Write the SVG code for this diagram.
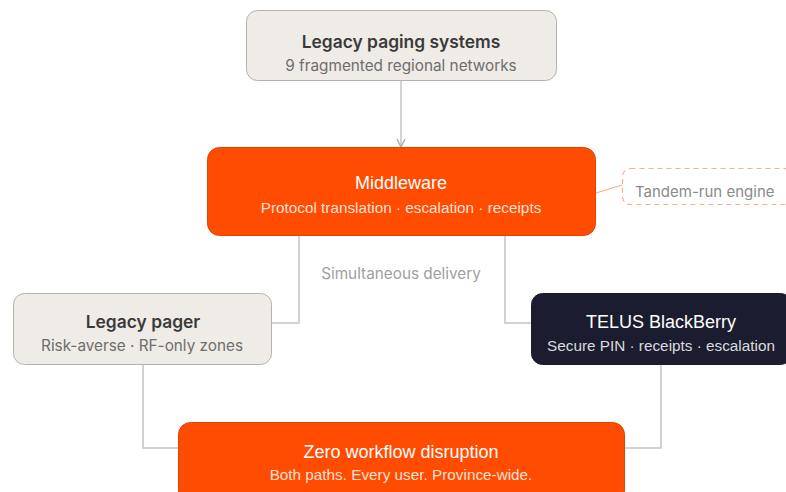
<svg xmlns="http://www.w3.org/2000/svg" width="786" height="492" viewBox="0 0 786 492">
<style>
.light{fill:#efebe6;stroke:#b5b2ae;stroke-width:1}
.orange{fill:#ff4c00;stroke:#e04400;stroke-width:1}
.dark{fill:#1c1c30;stroke:#1c1c30;stroke-width:1}
.t1{font-family:Inter,"Liberation Sans",sans-serif;font-weight:600;font-size:17.4px;fill:#3a3a3a;text-anchor:middle}
.s1{font-family:Inter,"Liberation Sans",sans-serif;font-size:15.3px;fill:#6e6e6e;text-anchor:middle}
.t2{font-family:"Liberation Sans",Arial,sans-serif;font-size:18px;fill:#ffffff;text-anchor:middle}
.s2{font-family:"Liberation Sans",Arial,sans-serif;font-size:15.3px;fill:#ffffff;fill-opacity:0.85;text-anchor:middle}
.conn{fill:none;stroke:#c4c4c4;stroke-width:1.5}
.lbl{font-family:Inter,"Liberation Sans",sans-serif;font-size:15.3px;fill:#a0a0a0;text-anchor:middle}
</style>
<defs>
<marker id="arr" viewBox="0 0 10 10" refX="9" refY="5" markerWidth="10" markerHeight="10" markerUnits="userSpaceOnUse" orient="auto">
<path d="M1,1 L9,5 L1,9" fill="none" stroke="#b0b0b0" stroke-width="1.5"/>
</marker>
</defs>
<g id="connectors">
<line class="conn" x1="401" y1="80" x2="401" y2="147" marker-end="url(#arr)"/>
<polyline class="conn" points="299,236 299,323 272,323"/>
<polyline class="conn" points="505,236 505,323 531,323"/>
<polyline class="conn" points="143,365 143,448 178,448"/>
<polyline class="conn" points="661,365 661,448 624,448"/>
<line x1="596" y1="193" x2="622" y2="185" stroke="#ffab8a" stroke-width="1.2"/>
<text class="lbl" x="401" y="279">Simultaneous delivery</text>
</g>
<g id="legacy-systems">
<rect class="light" x="246.5" y="10.5" width="310" height="70" rx="11"/>
<text class="t1" x="401" y="48">Legacy paging systems</text>
<text class="s1" x="401" y="71">9 fragmented regional networks</text>
</g>
<g id="middleware">
<rect class="orange" x="207.5" y="147.5" width="388" height="88" rx="12"/>
<text class="t2" x="401" y="189">Middleware</text>
<text class="s2" x="401" y="213">Protocol translation · escalation · receipts</text>
</g>
<g id="tandem">
<rect x="622.5" y="168.5" width="170" height="36" rx="8" fill="#ffffff" stroke="#ffab8a" stroke-width="1.2" stroke-dasharray="5,4"/>
<text x="635" y="197" font-family="Inter,'Liberation Sans',sans-serif" font-size="15" fill="#8a8a8a">Tandem-run engine</text>
</g>
<g id="legacy-pager">
<rect class="light" x="13.5" y="293.5" width="258" height="71" rx="11"/>
<text class="t1" x="143" y="328">Legacy pager</text>
<text class="s1" x="142" y="351">Risk-averse · RF-only zones</text>
</g>
<g id="blackberry">
<rect class="dark" x="531.5" y="293.5" width="260" height="71" rx="11"/>
<text class="t2" x="661" y="328">TELUS BlackBerry</text>
<text class="s2" x="661" y="351">Secure PIN · receipts · escalation</text>
</g>
<g id="zero-disruption">
<rect class="orange" x="178.5" y="422.5" width="446" height="80" rx="12"/>
<text class="t2" x="401" y="458">Zero workflow disruption</text>
<text class="s2" x="401" y="480">Both paths. Every user. Province-wide.</text>
</g>
</svg>
